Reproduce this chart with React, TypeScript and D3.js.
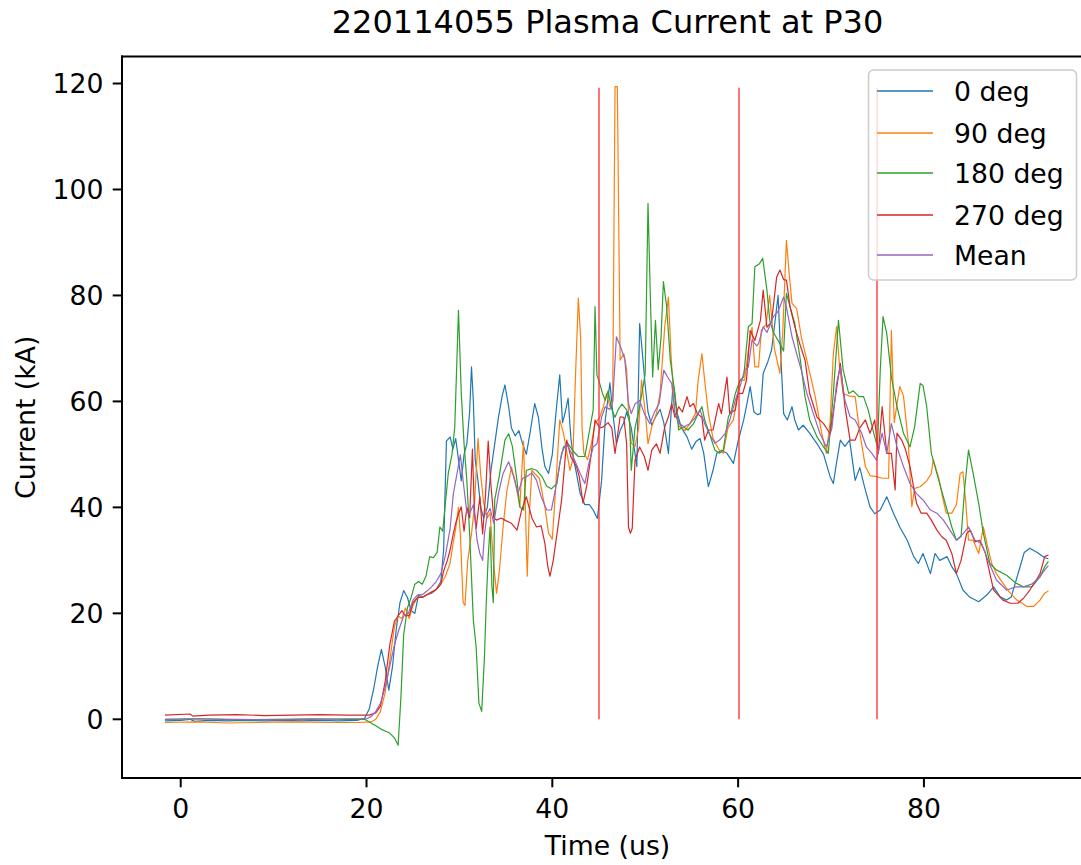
import React from "react";
import * as d3 from "d3";

type P = [number, number];

const title = "220114055 Plasma Current at P30";
const xLabel = "Time (us)";
const yLabel = "Current (kA)";
const xTicks = [0, 20, 40, 60, 80];
const yTicks = [0, 20, 40, 60, 80, 100, 120];
const seriesNames = ["0 deg", "90 deg", "180 deg", "270 deg", "Mean"];
const seriesColors = ["#1f77b4", "#ff7f0e", "#2ca02c", "#d62728", "#9467bd"];
const markerTimes = [45, 60, 75];
const markerTop = 119.2;

const deg0: P[] = [[-1.7,-0.3],[0,-0.2],[1,0],[1.5,-0.4],[3,-0.2],[5,-0.3],[7,-0.2],[9,-0.3],[11,-0.2],[13,-0.3],[15,-0.2],[17,-0.3],[19,-0.2],[19.8,0.2],[20.3,2],[20.8,6],[21.2,10],[21.6,13.2],[22,10],[22.4,5.5],[22.8,10],[23.2,17],[23.6,22],[24,24.3],[24.4,23],[24.8,20.5],[25.2,20],[25.6,23.5],[26,23],[26.5,23.5],[27,23.8],[27.5,24.5],[28,26],[28.3,32],[28.6,52.5],[29,53.3],[29.3,51],[29.6,53],[29.9,49],[30.2,45],[30.5,50],[30.8,52],[31.1,58],[31.3,66.5],[31.5,60],[31.7,49],[32,45],[32.3,40],[32.6,38],[33,40],[33.4,47],[33.8,52],[34.2,57],[34.6,61],[34.9,63.1],[35.3,59],[35.6,55],[36,53.5],[36.4,54.5],[36.8,52],[37.2,50],[37.6,54],[38.1,59.6],[38.5,57],[38.9,51],[39.2,47.7],[39.6,46.4],[40,50],[40.4,58],[40.8,65],[41.1,56],[41.4,58],[41.7,60.6],[42,53],[42.3,49],[42.6,46.4],[43,42.6],[43.5,40.5],[44,40.5],[44.4,39.5],[44.85,37.9],[45.3,45],[45.7,56.5],[46.2,63.5],[46.5,58],[46.9,52],[47.3,54.5],[47.7,56],[48,58],[48.5,55],[49.1,47.7],[49.4,74.7],[49.6,71],[50,63],[50.3,58],[50.7,55.5],[51.1,57],[51.6,58.5],[52,56],[52.5,50.2],[53,63.4],[53.4,58],[53.9,55],[54.5,53.3],[55,51],[55.5,52.5],[55.9,53],[56.3,50.2],[56.8,43.9],[57.3,47],[57.7,50.2],[58.2,50.8],[58.8,50.2],[59.5,48.3],[60,52.5],[60.6,56.5],[61,60],[61.3,62.8],[61.7,58],[62.1,57.5],[62.4,57.7],[62.7,65.3],[63.2,67.5],[63.6,69.7],[63.9,74],[64.3,80],[64.5,72],[64.9,57.7],[65.3,56.5],[65.8,59],[66.1,56.5],[66.5,54.6],[67,55.5],[67.7,54],[68.5,52],[69.2,50],[69.9,45.8],[70.25,44.5],[70.6,48.5],[71,52.7],[71.5,51.5],[72,52.7],[72.6,45.1],[73.1,47.5],[73.6,43.9],[74.2,40.1],[74.7,38.8],[75.3,39.5],[76,42],[76.7,39],[77.4,36.3],[78.2,33.8],[78.9,30.7],[79.4,29.4],[79.9,31.3],[80.7,27.5],[81.2,31.3],[81.7,30],[82.5,30.7],[83,28.8],[83.5,27.5],[84.2,24.4],[84.9,23.1],[85.9,22.2],[86.8,23.5],[87.5,25],[88.2,23.1],[88.9,22.5],[89.4,23.1],[90.35,28.8],[90.8,31.5],[91.4,32.3],[92.2,31.5],[93.0,30.5],[93.4,30.3]];

const deg90: P[] = [[-1.7,-0.6],[2,-0.5],[5,-0.7],[8,-0.6],[12,-0.5],[16,-0.6],[19,-0.6],[20.5,-0.5],[21,0],[21.5,1.5],[22,5],[22.5,11],[23,17.5],[23.4,19.5],[23.8,19],[24.2,21],[24.6,19],[25,21.5],[25.5,23],[26,23],[26.5,23.5],[27,24],[27.5,24.5],[28,25.5],[28.5,27],[29,29.5],[29.3,33],[29.6,36],[29.9,40],[30.1,35],[30.4,22],[30.6,21.5],[30.9,30],[31.3,35],[31.6,40],[32,53],[32.3,46],[32.6,41],[33,38],[33.3,39],[33.65,30],[34,23.8],[34.3,28],[34.7,36.3],[35.1,43],[35.6,47.6],[36,45],[36.5,40.1],[36.9,52.5],[37.1,40],[37.3,27],[37.5,38],[37.8,47],[38.1,46.4],[38.6,45.5],[39.2,40.1],[39.6,35.1],[40,34],[40.3,42],[40.8,56.5],[41.2,54],[41.6,50],[41.9,47],[42.2,49],[42.5,65],[42.8,79.5],[43.05,72],[43.2,55],[43.4,50.2],[43.8,49],[44.2,52],[44.6,55.8],[45.1,57],[45.5,59],[45.85,61.5],[46.2,59],[46.5,60],[46.75,119.4],[47.0,119.4],[47.3,67.8],[47.7,69],[48,66],[48.2,58],[48.5,52.1],[48.9,51.5],[49.3,55],[49.6,64],[50,58],[50.3,52],[50.7,55.2],[51.2,57.7],[51.6,61.5],[52.1,74.1],[52.5,79.7],[52.8,68],[53.2,57.7],[53.7,55.2],[54.3,54.5],[54.8,55.8],[55.4,57.7],[55.7,64],[56.1,69],[56.4,64],[56.8,57.7],[57.3,53],[57.9,51],[58.4,50.2],[58.9,55],[59.5,56.5],[59.8,60],[60.2,64],[60.7,64],[61.1,69.7],[61.5,74],[61.8,66.5],[62.2,66.5],[62.5,73.4],[63,74.5],[63.4,80],[63.9,70],[64.5,65.3],[64.8,73],[65.2,90.4],[65.5,84],[65.8,78.5],[66.3,77.5],[66.8,72.2],[67.5,67],[68.3,60.9],[69,54],[69.5,50.2],[69.9,56],[70.25,69],[70.6,74.1],[70.9,67],[71.3,61.5],[72,61],[72.6,60.9],[73.1,54],[73.7,47.7],[74.2,46],[74.9,45.8],[75.5,45.5],[76.2,45.5],[76.5,73.4],[76.8,56],[77.4,62.8],[77.8,61],[78.3,52.7],[78.7,40.1],[79.0,43.6],[79.6,43.9],[80.3,45],[80.8,46.4],[81,49],[81.6,45.5],[82,42],[82.4,38.9],[83,38.9],[83.5,40.5],[83.9,46.4],[84.2,46.7],[84.5,41],[84.8,33.8],[85.3,33.8],[85.9,31.3],[86.4,36.3],[86.8,33],[87.3,29.4],[87.8,27.5],[88.5,25.7],[89.2,24],[90,22.5],[91.1,21.3],[91.8,21.3],[92.5,22.5],[93.0,23.8],[93.4,24.2]];

const deg180: P[] = [[-1.7,0],[2,0.1],[6,-0.1],[10,0],[14,0.1],[18,0],[19.8,0],[20.3,-0.5],[21,-1.2],[21.5,-1.8],[22,-2.2],[22.5,-2.6],[23,-3.5],[23.4,-4.9],[23.7,4],[24,16],[24.4,21],[24.8,23],[25.2,25.5],[25.6,26],[26,25.5],[26.4,27],[26.8,30.7],[27.2,30.5],[27.6,31.5],[27.9,36.3],[28.2,35.5],[28.5,41],[28.8,46.4],[29.2,50],[29.5,55.2],[29.9,77.2],[30.2,61.5],[30.5,52],[30.8,45],[31.1,35],[31.5,18.7],[31.8,13.7],[32.1,3],[32.4,1.5],[32.7,12],[32.9,22.5],[33.1,30.7],[33.3,36.3],[33.5,25],[33.65,22],[33.8,41.4],[34.3,46],[34.9,52.7],[35.3,53.9],[35.7,51.5],[36.2,45],[36.5,40.1],[36.9,39.5],[37.2,47],[37.8,47.3],[38.3,47],[38.9,45.8],[39.4,44],[39.9,43.5],[40.5,44.5],[40.8,48.3],[41.2,51.4],[41.7,52],[42.3,50.5],[42.8,49.6],[43.5,49.6],[43.9,53.5],[44.4,58.4],[44.6,77.9],[44.8,65],[45.1,63.4],[45.4,61.5],[45.7,60.2],[46.0,62],[46.4,58.5],[46.75,57],[47.1,58.5],[47.5,59.5],[48,58.4],[48.3,57],[48.5,47],[48.9,55],[49.4,59],[50,65.3],[50.3,97.4],[50.55,80],[50.8,64.6],[51.1,75.3],[51.4,66],[51.7,72],[51.96,82.6],[52.3,78],[52.7,67.8],[53.2,61.5],[53.6,54.6],[54.1,55.2],[54.6,54.6],[55.2,55.8],[55.7,57.7],[56.1,59],[56.4,56.5],[56.9,54],[57.5,50.8],[58,50.2],[58.4,50.8],[58.95,57.1],[59.3,58.4],[59.7,61.5],[60.2,64],[60.6,64.6],[61.1,74.1],[61.5,74.7],[61.8,85.4],[62.3,86],[62.65,87],[63.1,81],[63.4,75.3],[63.8,73],[64.5,70.9],[64.9,69.5],[65.2,80.4],[65.6,77.8],[66.1,74.7],[66.7,67.8],[67.2,60.9],[67.7,56.5],[68.5,53.3],[69.2,51.4],[69.7,50.2],[70.25,61.5],[70.8,75.3],[71.3,66],[71.9,61.5],[72.4,62],[73,60.9],[73.5,60.9],[74.0,58.4],[74.6,54],[75.0,51.4],[75.3,65.9],[75.6,76],[76.0,72.8],[76.5,64.6],[77.1,59],[77.8,54],[78.5,51.4],[79.0,55.2],[79.6,63.4],[79.9,63],[80.3,59],[80.8,50.2],[81.6,45.1],[82.3,40.7],[83.0,36.3],[83.5,33.8],[84.0,34.5],[84.4,43.9],[84.8,50.8],[85.3,46.4],[85.9,40.7],[86.4,35.1],[87.1,29.4],[87.8,28.2],[88.9,27.2],[89.9,25.7],[90.7,25],[91.6,25],[92.5,26.9],[93.0,28.8],[93.4,29.8]];

const deg270: P[] = [[-1.7,0.8],[1,1],[1.3,0.6],[3,0.8],[6,0.9],[9,0.7],[12,0.8],[15,0.9],[18,0.8],[20.3,0.8],[21,1.2],[21.5,2.5],[22,7],[22.5,14],[23,18.5],[23.4,19.5],[23.8,20.5],[24.2,19.5],[24.6,19.6],[25,22],[25.5,23],[26,23],[26.5,23.5],[27,24],[27.5,24.5],[28,25.5],[28.3,28],[28.7,30],[29.0,32],[29.35,35.1],[29.6,37],[29.9,38.8],[30.2,40.1],[30.5,35.5],[30.8,40],[31.1,38],[31.4,51],[31.6,40],[31.8,36],[32.2,42],[32.5,35],[32.8,42],[33.1,52.5],[33.4,44],[33.7,38],[34.0,37.6],[34.5,38],[35.0,37.5],[35.6,37],[36.2,35.7],[36.7,39.5],[37.2,42],[37.8,38],[38.3,36.3],[38.8,36.5],[39.2,33.2],[39.5,29],[39.75,27],[40.1,30],[40.5,35],[41,41.4],[41.55,52.7],[42,49.5],[42.6,47.7],[42.9,45.8],[43.3,40.8],[43.7,44],[44.2,50.2],[44.6,56.5],[45.1,55],[45.5,55.2],[46,56],[46.4,55],[46.75,50.2],[47.3,57.1],[47.7,57],[48.0,52],[48.2,36.3],[48.4,35.1],[48.6,36],[48.9,48.9],[49.4,51.4],[49.9,49.6],[50.3,47],[50.7,50.8],[51.2,52],[51.6,50.2],[52.1,55.2],[52.5,57.1],[52.85,59.6],[53.2,57],[53.6,59],[54.0,58],[54.5,60.9],[54.8,59],[55.2,59.6],[55.6,57.7],[56.1,57],[56.4,52.7],[56.8,54.6],[57.3,54.6],[57.9,59.6],[58.2,57.7],[58.8,64.6],[59.1,57.7],[59.7,58.4],[60,61.5],[60.5,61.5],[60.9,64],[61.3,73.4],[61.8,71.5],[62.4,75.3],[62.7,81],[63.1,74],[63.6,75],[64.15,83.5],[64.5,84.8],[64.9,83],[65.2,82.9],[65.6,77.8],[66.1,74.1],[66.7,70.5],[67.2,67.8],[67.7,61.5],[68.5,57],[69.2,55.8],[69.9,53.9],[70.4,60],[71,67.2],[71.5,59],[72.05,52.7],[72.6,52.7],[73.1,55],[73.7,56.5],[74.2,54],[74.7,56.5],[75.1,50.2],[75.5,59],[76,50.2],[76.5,50.2],[76.9,43.3],[77.1,54],[77.6,52.7],[78.0,51],[78.5,47.7],[79.2,40.8],[79.7,38.9],[80.3,38.9],[80.8,37.6],[81.4,35.7],[81.9,34.5],[82.4,33.8],[83.0,31.3],[83.5,27.5],[84.0,30],[84.6,35.1],[85.0,35.7],[85.5,33.5],[86.0,33.8],[86.6,31.5],[87.1,27.5],[87.5,24.4],[87.8,23.8],[88.5,22.5],[89.3,21.9],[90.1,21.9],[90.7,22.8],[91.4,24.4],[92.0,26],[92.5,27.5],[93.0,30.7],[93.4,31]];

const meanSeries: P[] = [[-1.7,0],[2,0.1],[6,0],[10,-0.1],[14,0],[18,0.1],[20,0.1],[20.5,0.5],[21,1.5],[21.5,3],[22,6],[22.5,10],[23,14],[23.5,17],[24,19.5],[24.5,20],[25,22.5],[25.5,23.5],[26,23.5],[26.5,24.2],[27,25],[27.5,26],[28,27.5],[28.5,31],[29,36],[29.35,42.6],[29.7,46],[30.1,49.9],[30.4,45],[30.8,39],[31.1,38.8],[31.5,40.5],[31.9,33.8],[32.2,31.3],[32.5,30],[32.7,35],[33,38.8],[33.3,39.8],[33.7,37],[34.2,42.6],[34.7,46.4],[35.3,48.6],[35.8,46],[36.3,42.6],[36.8,45.5],[37.2,45.8],[37.8,46.5],[38.3,45.1],[38.8,42],[39.4,39.5],[39.9,39.5],[40.4,44],[41,50.2],[41.5,52],[42,50.5],[42.5,48.5],[43,46.4],[43.5,44.5],[43.9,48],[44.4,51.4],[44.8,52],[45.3,57],[45.7,59],[46.2,58.5],[46.5,60],[46.9,72.2],[47.3,70.5],[47.8,68],[48.2,59.6],[48.5,57.7],[48.9,59.5],[49.4,60.2],[49.9,57.7],[50.5,55.8],[51.0,58],[51.5,59.6],[52,65.9],[52.4,64.6],[52.85,63.4],[53.2,57.7],[53.7,55.8],[54.2,55.2],[54.8,55.8],[55.4,57],[55.9,58.4],[56.4,55.8],[56.9,53.9],[57.5,52.1],[58,52.7],[58.6,53.9],[59.1,56.5],[59.7,60.2],[60.2,62.8],[60.7,65.9],[61.1,66.5],[61.5,71.6],[62.0,70.5],[62.2,70.9],[62.7,74.1],[63.1,73],[63.8,76],[64.3,77],[64.9,79.7],[65.2,77.8],[65.8,72.2],[66.3,69],[66.8,65.9],[67.4,61.5],[68.1,57.7],[68.8,54],[69.5,51.4],[70.1,55],[70.6,63.4],[71,66.5],[71.5,60.2],[72.05,57.1],[72.6,56.5],[73.3,54],[73.8,51.4],[74.4,50.2],[74.9,48.9],[75.5,54],[76.0,50.2],[76.5,55.8],[77.1,51.4],[77.8,47.7],[78.5,44.5],[79.2,42.6],[79.9,41.4],[80.7,39.5],[81.4,38.9],[82.1,37.6],[82.8,35.7],[83.5,33.8],[84.2,35],[84.8,36.3],[85.5,33.8],[86.2,33.2],[86.9,30],[87.8,26.3],[88.9,24.4],[89.9,25],[90.7,25],[91.6,25.5],[92.5,26.9],[93.0,28.2],[93.4,29]];

const allSeries = [deg0, deg90, deg180, deg270, meanSeries];

const W = 1081;
const H = 865;
const L = 122;
const R = 1093;
const T = 56.5;
const B = 778;
const FONT = "'DejaVu Sans', Verdana, sans-serif";
const FS = 26.7;

// centre a thin line inside an even-aligned 2px pixel pair
const snap = (v: number) => 2 * Math.floor(v / 2) + 1;

export default function App() {
  const x = d3.scaleLinear().domain([-6.32, 98.2]).range([L, R]);
  const y = d3.scaleLinear().domain([-11.08, 125.1]).range([B, T]);
  const line = d3
    .line<P>()
    .x((d) => x(d[0]))
    .y((d) => y(d[1]));

  const legX = 868.5;
  const legY = 70;
  const legRowY = [91, 133, 173, 215, 255];

  return (
    <svg
      width={W}
      height={H}
      style={{ position: "absolute", left: 0, top: 0, background: "#fff" }}
      fontFamily={FONT}
    >
      <rect x={0} y={0} width={W} height={H} fill="#fff" />
      <defs>
        <clipPath id="plotclip">
          <rect x={L} y={T} width={R - L} height={B - T} />
        </clipPath>
      </defs>
      <g clipPath="url(#plotclip)">
        {allSeries.map((s, i) => (
          <path
            key={"s" + i}
            d={line(s) || ""}
            fill="none"
            stroke={seriesColors[i]}
            strokeWidth={1.2}
            strokeLinejoin="round"
          />
        ))}
      </g>
      <g>
        {markerTimes.map((t) => {
          const px = snap(x(t));
          return (
            <line
              key={"m" + t}
              x1={px}
              x2={px}
              y1={y(markerTop)}
              y2={y(0)}
              stroke="#ff2a2a"
              strokeWidth={1.3}
            />
          );
        })}
      </g>
      {/* spines */}
      <g stroke="#000" strokeWidth={2} fill="none">
        <line x1={L} x2={L} y1={T} y2={B} strokeLinecap="square" />
        <line x1={L} x2={R} y1={B} y2={B} strokeLinecap="square" />
        <line x1={L} x2={R} y1={T} y2={T} strokeLinecap="square" />
        <line x1={R} x2={R} y1={T} y2={B} />
      </g>
      {/* x ticks */}
      {xTicks.map((t) => (
        <g key={"x" + t}>
          <line x1={x(t)} x2={x(t)} y1={B} y2={B + 9.3} stroke="#000" strokeWidth={2} />
          <text x={x(t)} y={818} textAnchor="middle" fontSize={FS} fill="#000">
            {t}
          </text>
        </g>
      ))}
      {/* y ticks */}
      {yTicks.map((t) => (
        <g key={"y" + t}>
          <line x1={L - 9.3} x2={L} y1={y(t)} y2={y(t)} stroke="#000" strokeWidth={2} />
          <text x={103.5} y={y(t) + 9.7} textAnchor="end" fontSize={FS} fill="#000">
            {t}
          </text>
        </g>
      ))}
      <text x={(L + R) / 2} y={855} textAnchor="middle" fontSize={FS} fill="#000">
        {xLabel}
      </text>
      <text
        transform={`translate(35, ${(T + B) / 2}) rotate(-90)`}
        textAnchor="middle"
        fontSize={FS}
        fill="#000"
      >
        {yLabel}
      </text>
      <text x={(L + R) / 2} y={33} textAnchor="middle" fontSize={32} fill="#000">
        {title}
      </text>
      {/* legend */}
      <rect
        x={legX}
        y={legY}
        width={208}
        height={210}
        rx={5}
        ry={5}
        fill="#fff"
        fillOpacity={0.8}
        stroke="#cccccc"
        strokeWidth={1.5}
      />
      {seriesNames.map((n, i) => (
        <g key={n}>
          <line
            x1={877}
            x2={933}
            y1={legRowY[i]}
            y2={legRowY[i]}
            stroke={seriesColors[i]}
            strokeWidth={1.3}
          />
          <text x={954} y={legRowY[i] + 9.7} fontSize={FS} fill="#000">
            {n}
          </text>
        </g>
      ))}
    </svg>
  );
}
